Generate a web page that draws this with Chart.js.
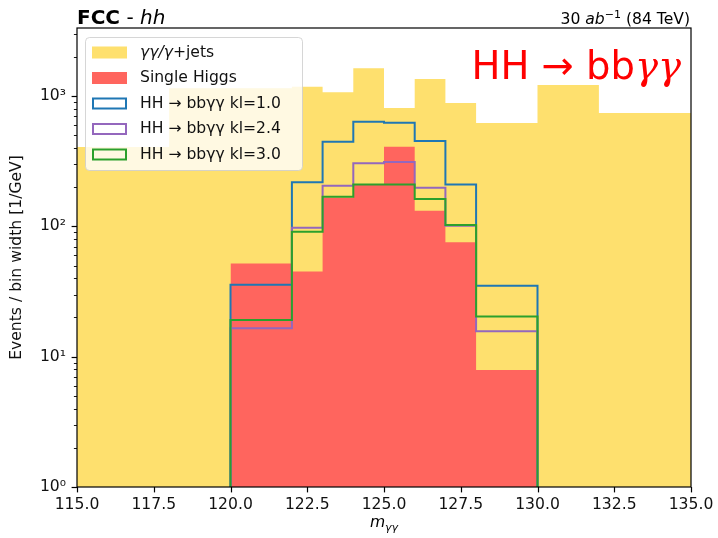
<!DOCTYPE html>
<html>
<head>
<meta charset="utf-8">
<script src="https://cdn.jsdelivr.net/npm/chart.js@4.4.1/dist/chart.umd.min.js"></script>
<style>
  html, body { margin: 0; padding: 0; background: #fff; }
  #wrap { width: 718px; height: 538px; }
</style>
</head>
<body>
<div id="wrap"><canvas id="hhChart" width="718" height="538"></canvas></div>
<script>
// m_yy bin edges and per-GeV yields
const bkgEdges = [115, 118, 120, 122, 123, 124, 125, 126, 127, 128, 130, 132, 135];
const bkgValues = [407, 1148, 1148, 1181, 1069, 1634, 811, 1352, 885, 622, 1217, 741];
const sigEdges = [120, 122, 123, 124, 125, 126, 127, 128, 130];
const singleHiggs = [52, 45, 166, 208, 409, 132, 75.5, 7.9];
const hhKl10 = [35.6, 218, 447, 636, 625, 452, 210, 35];
const hhKl24 = [16.5, 97.8, 205, 305, 312, 198, 101, 15.7];
const hhKl30 = [19.1, 91, 169, 210, 210, 162, 102.5, 20.3];

const seriesLabels = ['γγ/γ+jets', 'Single Higgs', 'HH → bbγγ kl=1.0', 'HH → bbγγ kl=2.4', 'HH → bbγγ kl=3.0'];
const xTicks = [115, 117.5, 120, 122.5, 125, 127.5, 130, 132.5, 135];
const yTicks = [1, 10, 100, 1000];
const yMin = 1;
const yMax = 3330;

const SANS = 'DejaVu Sans';
const SUP = {0: '⁰', 1: '¹', 2: '²', 3: '³'};

// filled histogram: one point per left edge, last edge repeats the last value
function filledHist(edges, values) {
    var pts = values.map((v, i) => ({x: edges[i], y: v}));
    pts.push({x: edges[edges.length - 1], y: values[values.length - 1]});
    return pts;
}

// step outline that drops to the bottom of the axis at both ends
function outlineHist(edges, values) {
    var pts = [{x: edges[0], y: yMin}];
    values.forEach((v, i) => pts.push({x: edges[i], y: v}));
    pts.push({x: edges[edges.length - 1], y: yMin});
    return pts;
}

// draws a list of text runs ({t, font, dy}) starting at x, or ending at x if align is right
function drawRuns(ctx, runs, x, y, align) {
    var total = 0;
    runs.forEach(r => { ctx.font = r.font; r.w = ctx.measureText(r.t).width; total += r.w; });
    var cx = align === 'right' ? x - total : (align === 'center' ? x - total / 2 : x);
    runs.forEach(r => {
        ctx.font = r.font;
        ctx.fillText(r.t, cx, y + (r.dy || 0));
        cx += r.w;
    });
}

const decorPlugin = {
    id: 'decor',
    afterDraw(chart) {
        const ctx = chart.ctx;
        const a = chart.chartArea;
        const xs = chart.scales.x;
        const ys = chart.scales.y;
        ctx.save();

        // tick marks, pointing out
        ctx.strokeStyle = '#000';
        ctx.lineWidth = 1.2;
        xTicks.forEach(v => {
            const px = Math.round(xs.getPixelForValue(v)) + 0.5;
            ctx.beginPath(); ctx.moveTo(px, a.bottom); ctx.lineTo(px, a.bottom + 5.4); ctx.stroke();
        });
        for (let e = 0; e <= 3; e++) {
            for (let m = 1; m <= 9; m++) {
                const v = m * Math.pow(10, e);
                if (v > yMax) break;
                const py = Math.round(ys.getPixelForValue(v)) + 0.5;
                ctx.lineWidth = m === 1 ? 1.2 : 0.9;
                ctx.beginPath(); ctx.moveTo(a.left, py); ctx.lineTo(a.left - (m === 1 ? 5.4 : 3.1), py); ctx.stroke();
            }
        }

        // axes frame
        ctx.lineWidth = 1.2;
        ctx.strokeRect(a.left, a.top, a.right - a.left, a.bottom - a.top);

        // legend
        const lx = 85, ly = 37, lw = 217, lh = 133, rowH = 25.5;
        ctx.beginPath();
        ctx.roundRect(lx + 0.5, ly + 0.5, lw, lh, 4);
        ctx.fillStyle = 'rgba(255,255,255,0.8)';
        ctx.fill();
        ctx.strokeStyle = 'rgba(204,204,204,0.8)';
        ctx.lineWidth = 1;
        ctx.stroke();
        chart.data.datasets.forEach((ds, i) => {
            const cy = ly + 15.5 + i * rowH;
            if (ds.fill) {
                ctx.fillStyle = ds.backgroundColor;
                ctx.fillRect(92, cy - 6, 35, 12);
            } else {
                ctx.strokeStyle = ds.borderColor;
                ctx.lineWidth = 2;
                ctx.strokeRect(93, cy - 5, 33, 10);
            }
            ctx.fillStyle = '#111';
            ctx.textBaseline = 'middle';
            if (ds.label.startsWith('γγ/γ')) {
                drawRuns(ctx, [
                    {t: 'γγ/γ', font: 'italic 15.6px ' + SANS},
                    {t: ds.label.slice(4), font: '15.6px ' + SANS}
                ], 140, cy);
            } else {
                drawRuns(ctx, [{t: ds.label, font: '15.6px ' + SANS}], 140, cy);
            }
        });

        // titles
        ctx.textBaseline = 'alphabetic';
        ctx.fillStyle = '#000';
        drawRuns(ctx, [
            {t: 'FCC', font: 'bold 20px ' + SANS},
            {t: ' - ', font: '20px ' + SANS},
            {t: 'hh', font: 'italic 20px ' + SANS}
        ], a.left, 24);
        drawRuns(ctx, [
            {t: '30 ', font: '15.6px ' + SANS},
            {t: 'ab', font: 'italic 15.6px ' + SANS},
            {t: '−1', font: '11px ' + SANS, dy: -6},
            {t: ' (84 TeV)', font: '15.6px ' + SANS}
        ], a.right - 1, 24, 'right');
        drawRuns(ctx, [
            {t: 'm', font: 'italic 15.6px ' + SANS},
            {t: 'γγ', font: 'italic 11px ' + SANS, dy: 3.5}
        ], (a.left + a.right) / 2, 527, 'center');

        // process label
        ctx.fillStyle = '#ff0000';
        drawRuns(ctx, [
            {t: 'HH', font: '38.5px ' + SANS},
            {t: ' → ', font: '38.5px ' + SANS},
            {t: 'bb', font: '38.5px ' + SANS},
            {t: 'γγ', font: 'italic 38.5px "DejaVu Serif"'}
        ], 681, 79, 'right');

        ctx.restore();
    }
};

document.addEventListener('DOMContentLoaded', function() {
    var ctx = document.getElementById('hhChart').getContext('2d');
    var lineBase = {
        showLine: true, stepped: true, pointRadius: 0, tension: 0, borderWidth: 2, fill: false
    };
    new Chart(ctx, {
        type: 'line',
        data: {
            datasets: [
                {
                    label: seriesLabels[0], data: filledHist(bkgEdges, bkgValues),
                    stepped: true, pointRadius: 0, borderWidth: 0, fill: 'start',
                    backgroundColor: 'rgb(254,224,110)', borderColor: 'rgba(0,0,0,0)', order: 5
                },
                {
                    label: seriesLabels[1], data: filledHist(sigEdges, singleHiggs),
                    stepped: true, pointRadius: 0, borderWidth: 0, fill: 'start',
                    backgroundColor: 'rgb(255,101,94)', borderColor: 'rgba(0,0,0,0)', order: 4
                },
                Object.assign({label: seriesLabels[2], data: outlineHist(sigEdges, hhKl10), borderColor: '#1f77b4', order: 3}, lineBase),
                Object.assign({label: seriesLabels[3], data: outlineHist(sigEdges, hhKl24), borderColor: '#9467bd', order: 2}, lineBase),
                Object.assign({label: seriesLabels[4], data: outlineHist(sigEdges, hhKl30), borderColor: '#2ca02c', order: 1}, lineBase)
            ]
        },
        options: {
            responsive: false,
            animation: false,
            events: [],
            layout: { padding: { top: 28, right: 27, left: 0, bottom: 0 } },
            plugins: { legend: { display: false }, tooltip: { enabled: false } },
            scales: {
                x: {
                    type: 'linear', min: 115, max: 135,
                    grid: { display: false, drawTicks: false },
                    border: { display: false },
                    afterBuildTicks: scale => { scale.ticks = xTicks.map(v => ({value: v})); },
                    afterFit: scale => {
                        scale.height = 51;
                        scale.paddingLeft = 0;
                        scale.paddingRight = 0;
                    },
                    ticks: {
                        autoSkip: false, maxRotation: 0, padding: 9, color: '#111',
                        font: { family: SANS, size: 15.6 },
                        callback: v => v.toFixed(1)
                    }
                },
                y: {
                    type: 'logarithmic', min: yMin, max: yMax,
                    grid: { display: false, drawTicks: false },
                    border: { display: false },
                    afterBuildTicks: scale => { scale.ticks = yTicks.map(v => ({value: v})); },
                    afterFit: scale => {
                        scale.width = 77;
                        scale.paddingTop = 0;
                        scale.paddingBottom = 0;
                    },
                    ticks: {
                        autoSkip: false, padding: 11, color: '#111',
                        font: { family: SANS, size: 15.6 },
                        callback: v => '10' + SUP[Math.round(Math.log10(v))]
                    },
                    title: {
                        display: true, text: 'Events / bin width [1/GeV]', color: '#111',
                        font: { family: SANS, size: 15.6 }, padding: { top: 8, bottom: 0 }
                    }
                }
            }
        },
        plugins: [decorPlugin]
    });
});
</script>
</body>
</html>
